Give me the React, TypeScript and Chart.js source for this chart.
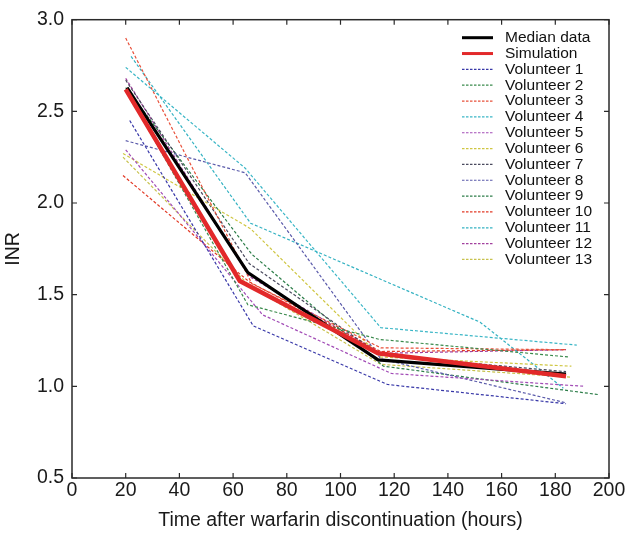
import React, { useEffect, useRef } from "react";
import { Chart, registerables } from "chart.js";

Chart.register(...registerables);

// ---- data ----
const xTickValues = [0, 20, 40, 60, 80, 100, 120, 140, 160, 180, 200];
const yTickValues = [0.5, 1.0, 1.5, 2.0, 2.5, 3.0];

const medianTimes = [20.5, 65.5, 114, 184];
const medianINR = [2.63, 1.62, 1.144, 1.067];

const simTimes = [20, 62.5, 114, 184];
const simINR = [2.62, 1.575, 1.18, 1.055];

const volunteerNames = [
  "Volunteer 1", "Volunteer 2", "Volunteer 3", "Volunteer 4", "Volunteer 5",
  "Volunteer 6", "Volunteer 7", "Volunteer 8", "Volunteer 9", "Volunteer 10",
  "Volunteer 11", "Volunteer 12", "Volunteer 13",
];

const volunteerColors = [
  "#3838a8", "#3a8a4c", "#e8503a", "#3ab6c6", "#a24cb6",
  "#cfc642", "#4a4a5e", "#5a5aaa", "#2e7e4a", "#e23a26",
  "#34b2c2", "#a2409e", "#c8c24e",
];

const volunteerTimes = [
  [21.5, 67.5, 117.5, 184],
  [20, 65.5, 114.5, 185],
  [20, 67, 115, 184],
  [20, 64.5, 115, 188],
  [20, 71, 119, 191],
  [19, 66.5, 115, 186],
  [20, 66, 115, 184],
  [20, 64.5, 115, 184],
  [20, 67, 116, 196],
  [19, 66, 115, 184],
  [22, 66.5, 152, 183],
  [20, 66, 115, 184],
  [19, 66, 115, 186],
];

const volunteerINR = [
  [2.45, 1.33, 1.01, 0.905],
  [2.62, 1.445, 1.256, 1.16],
  [2.9, 1.56, 1.21, 1.2],
  [2.74, 2.19, 1.32, 1.225],
  [2.29, 1.39, 1.07, 1.0],
  [2.27, 1.86, 1.16, 1.11],
  [2.67, 1.67, 1.17, 1.08],
  [2.34, 2.165, 1.15, 0.91],
  [2.63, 1.72, 1.11, 0.955],
  [2.15, 1.57, 1.19, 1.2],
  [2.8, 1.89, 1.35, 0.99],
  [2.68, 1.6, 1.18, 1.2],
  [2.25, 1.55, 1.12, 1.05],
];

const FONT = '"Liberation Sans", Arial, Helvetica, sans-serif';

const toPoints = (xs: number[], ys: number[]) => xs.map((x, i) => ({ x, y: ys[i] }));

const frameAndLegendPlugin = {
  id: "frameAndLegend",
  afterDatasetsDraw(chart: any) {
    const { ctx, chartArea, scales } = chart;
    const { left, right, top, bottom } = chartArea;
    ctx.save();
    ctx.strokeStyle = "#2a2a2a";
    ctx.lineWidth = 1.5;
    ctx.setLineDash([]);
    ctx.strokeRect(left, top, right - left, bottom - top);
    const tl = 5;
    ctx.lineWidth = 1.2;
    ctx.beginPath();
    xTickValues.forEach((v) => {
      const px = scales.x.getPixelForValue(v);
      ctx.moveTo(px, bottom);
      ctx.lineTo(px, bottom - tl);
      ctx.moveTo(px, top);
      ctx.lineTo(px, top + tl);
    });
    yTickValues.forEach((v) => {
      const py = scales.y.getPixelForValue(v);
      ctx.moveTo(left, py);
      ctx.lineTo(left + tl, py);
      ctx.moveTo(right, py);
      ctx.lineTo(right - tl, py);
    });
    ctx.stroke();

    // legend inside plot area
    const lx0 = right - 147;
    const lx1 = right - 116;
    const tx = right - 104;
    const y0 = top + 18;
    const step = 15.84;
    ctx.font = `15.5px ${FONT}`;
    ctx.textBaseline = "middle";
    ctx.textAlign = "left";
    chart.data.datasets.forEach((ds: any, i: number) => {
      const y = y0 + i * step;
      ctx.strokeStyle = ds.borderColor;
      ctx.lineWidth = i < 2 ? 3 : 1.2;
      ctx.setLineDash(i < 2 ? [] : [2.5, 1.5]);
      ctx.beginPath();
      ctx.moveTo(lx0, y);
      ctx.lineTo(lx1, y);
      ctx.stroke();
      ctx.setLineDash([]);
      ctx.fillStyle = "#111";
      ctx.fillText(ds.label, tx, y);
    });
    ctx.restore();
  },
};

export default function App() {
  const canvasRef = useRef<HTMLCanvasElement | null>(null);

  useEffect(() => {
    const canvas = canvasRef.current;
    if (!canvas) return;

    const datasets: any[] = [
      {
        label: "Median data",
        data: toPoints(medianTimes, medianINR),
        borderColor: "#000000",
        borderWidth: 3.2,
        order: 1,
      },
      {
        label: "Simulation",
        data: toPoints(simTimes, simINR),
        borderColor: "#e2292a",
        borderWidth: 4.5,
        order: 0,
      },
      ...volunteerNames.map((name, i) => ({
        label: name,
        data: toPoints(volunteerTimes[i], volunteerINR[i]),
        borderColor: volunteerColors[i],
        borderWidth: 1.2,
        borderDash: [3, 2],
        order: 2,
      })),
    ];
    datasets.forEach((d) => {
      d.pointRadius = 0;
      d.fill = false;
      d.tension = 0;
      d.backgroundColor = d.borderColor;
    });

    const chart = new Chart(canvas, {
      type: "line",
      data: { datasets },
      options: {
        responsive: false,
        animation: false,
        events: [],
        layout: { padding: { top: 13, right: 21, left: 0, bottom: 0 } },
        plugins: {
          legend: { display: false },
          tooltip: { enabled: false },
        },
        scales: {
          x: {
            type: "linear",
            min: 0,
            max: 200,
            afterFit: (s: any) => {
              s.height = 65;
            },
            afterBuildTicks: (s: any) => {
              s.ticks = xTickValues.map((v) => ({ value: v }));
            },
            grid: { display: false, drawTicks: false, tickLength: 0 },
            border: { display: false },
            ticks: {
              color: "#1a1a1a",
              font: { family: FONT, size: 19.5 },
              padding: 1,
              maxRotation: 0,
              autoSkip: false,
              callback: (v: any) => String(v),
            },
            title: {
              display: true,
              text: "Time after warfarin discontinuation (hours)",
              color: "#1a1a1a",
              font: { family: FONT, size: 19.5 },
              padding: { top: 0, bottom: 11 },
            },
          },
          y: {
            type: "linear",
            min: 0.5,
            max: 3.0,
            afterFit: (s: any) => {
              s.width = 72;
            },
            afterBuildTicks: (s: any) => {
              s.ticks = yTickValues.map((v) => ({ value: v }));
            },
            grid: { display: false, drawTicks: false, tickLength: 0 },
            border: { display: false },
            ticks: {
              color: "#1a1a1a",
              font: { family: FONT, size: 19.5 },
              padding: 8,
              callback: (v: any) => Number(v).toFixed(1),
            },
            title: {
              display: true,
              text: "INR",
              color: "#1a1a1a",
              font: { family: FONT, size: 19.5 },
              padding: { top: 2, bottom: 0 },
            },
          },
        },
      },
      plugins: [frameAndLegendPlugin],
    });

    return () => chart.destroy();
  }, []);

  return (
    <div style={{ position: "absolute", left: 0, top: 0, width: 630, height: 543, background: "#fff" }}>
      <canvas ref={canvasRef} width={630} height={543} style={{ display: "block" }} />
    </div>
  );
}
